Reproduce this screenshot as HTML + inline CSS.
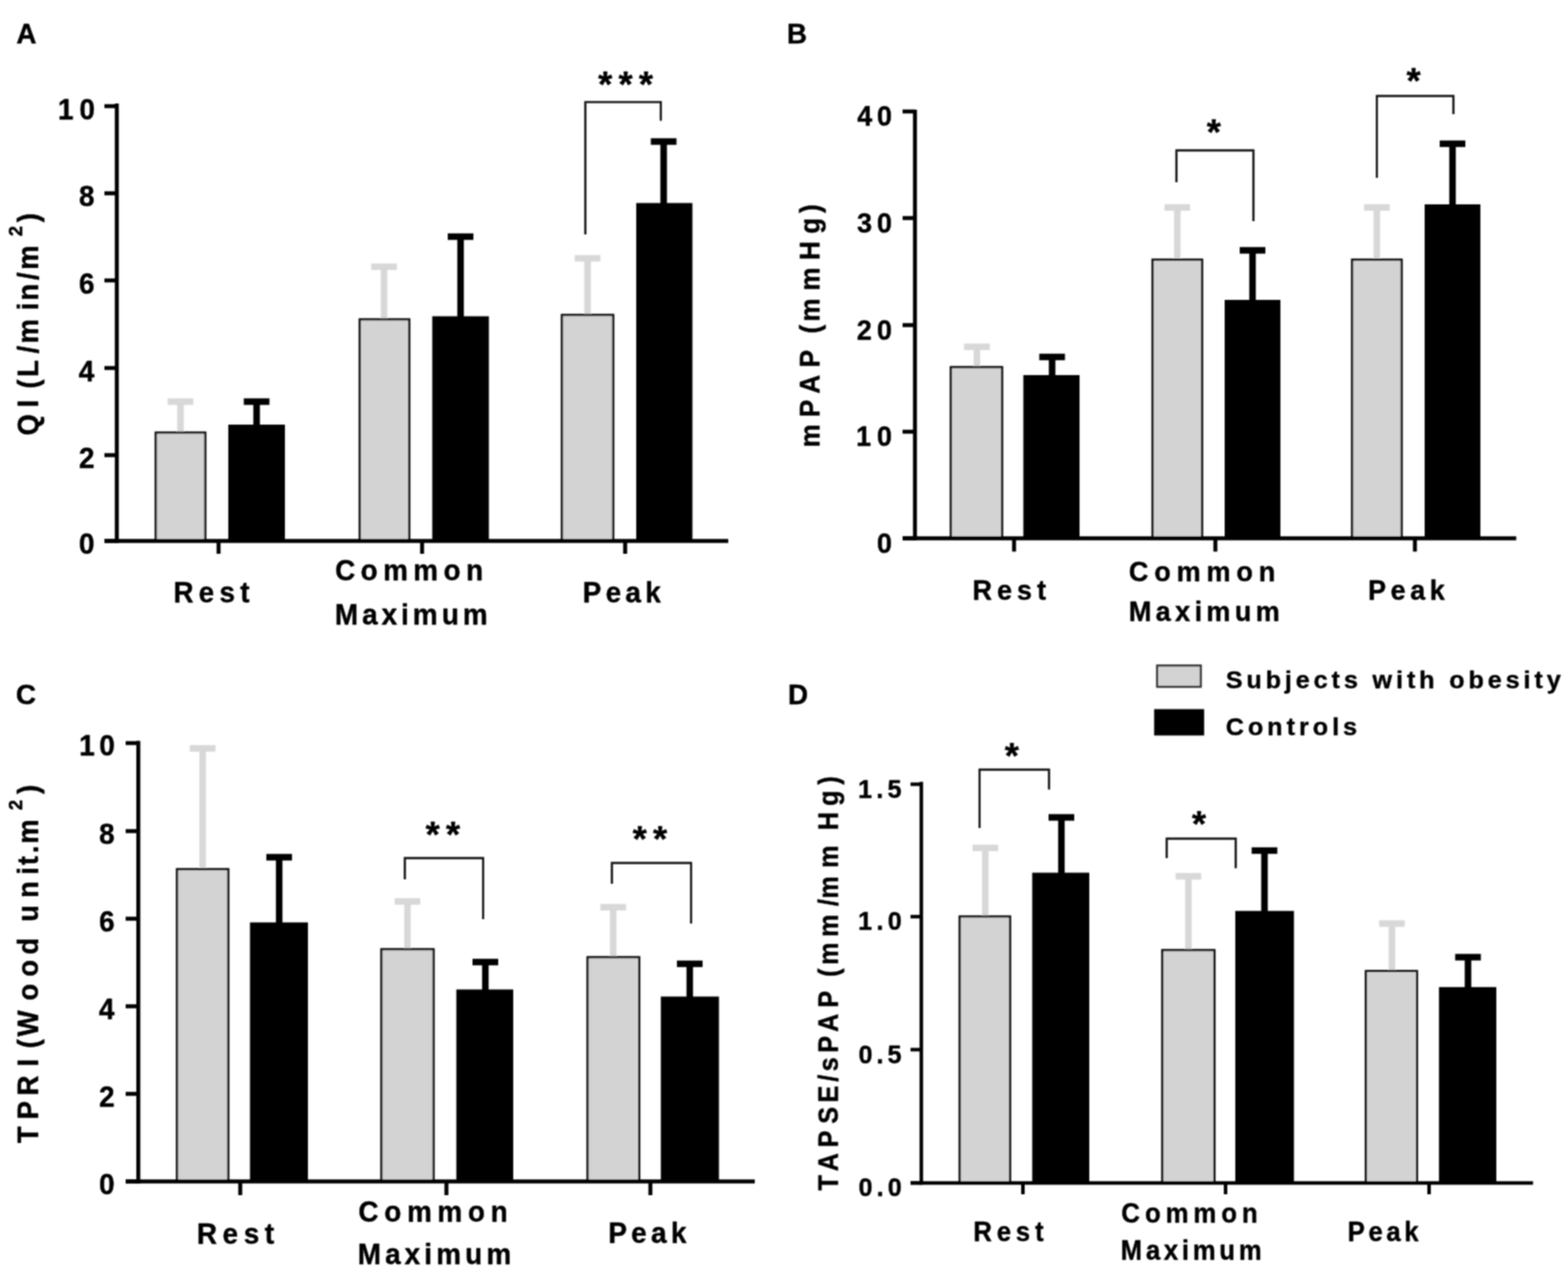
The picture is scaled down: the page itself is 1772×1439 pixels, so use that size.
<!DOCTYPE html>
<html lang="en">
<head>
<meta charset="utf-8">
<title>Figure: QI, mPAP, TPRI and TAPSE/sPAP at rest, common maximum and peak</title>
<style>
html,body{margin:0;padding:0;background:#fff;}
body{width:1772px;height:1439px;overflow:hidden;}
svg{display:block;}
svg text{font-family:"Liberation Sans",sans-serif;font-weight:bold;white-space:pre;fill:#000;}
</style>
</head>
<body>
<svg width="1772" height="1439" viewBox="0 0 1772 1439">
<defs><filter id="soft" x="0" y="0" width="1772" height="1439" filterUnits="userSpaceOnUse"><feConvolveMatrix order="3" kernelMatrix="1 2 1 2 4 2 1 2 1" divisor="16" edgeMode="duplicate"/></filter></defs>
<rect width="1772" height="1439" fill="#fff"/>
<g id="figure" filter="url(#soft)">
<g id="panel-A">
<g class="bars">
<rect x="200.30" y="454.00" width="7.40" height="36.00" fill="#d8d8d8"/>
<rect x="189.50" y="450.30" width="29.00" height="7.40" fill="#d8d8d8"/>
<rect x="176.00" y="489.00" width="56.00" height="122.50" fill="#d3d3d3" stroke="#0a0a0a" stroke-width="2.5"/>
<rect x="286.30" y="454.00" width="7.40" height="28.00" fill="#000"/>
<rect x="275.50" y="450.30" width="29.00" height="7.40" fill="#000"/>
<rect x="258.00" y="480.00" width="64.00" height="131.50" fill="#000"/>
<rect x="430.30" y="301.50" width="7.40" height="60.50" fill="#d8d8d8"/>
<rect x="419.50" y="297.80" width="29.00" height="7.40" fill="#d8d8d8"/>
<rect x="406.50" y="361.00" width="56.00" height="250.50" fill="#d3d3d3" stroke="#0a0a0a" stroke-width="2.5"/>
<rect x="516.80" y="267.50" width="7.40" height="92.00" fill="#000"/>
<rect x="506.00" y="263.80" width="29.00" height="7.40" fill="#000"/>
<rect x="488.50" y="357.50" width="64.00" height="254.00" fill="#000"/>
<rect x="660.30" y="292.00" width="7.40" height="65.00" fill="#d8d8d8"/>
<rect x="649.50" y="288.30" width="29.00" height="7.40" fill="#d8d8d8"/>
<rect x="635.00" y="356.00" width="58.00" height="255.50" fill="#d3d3d3" stroke="#0a0a0a" stroke-width="2.5"/>
<rect x="746.30" y="160.00" width="7.40" height="71.50" fill="#000"/>
<rect x="735.50" y="156.30" width="29.00" height="7.40" fill="#000"/>
<rect x="719.00" y="229.50" width="63.50" height="382.00" fill="#000"/>
</g>
<g class="axes">
<line x1="132.00" y1="117.00" x2="132.00" y2="613.75" stroke="#000" stroke-width="4.5"/>
<line x1="118.00" y1="611.50" x2="823.00" y2="611.50" stroke="#000" stroke-width="4.5"/>
<line x1="118.00" y1="120.00" x2="132.00" y2="120.00" stroke="#000" stroke-width="4.5"/>
<line x1="118.00" y1="218.50" x2="132.00" y2="218.50" stroke="#000" stroke-width="4.5"/>
<line x1="118.00" y1="317.00" x2="132.00" y2="317.00" stroke="#000" stroke-width="4.5"/>
<line x1="118.00" y1="416.00" x2="132.00" y2="416.00" stroke="#000" stroke-width="4.5"/>
<line x1="118.00" y1="514.50" x2="132.00" y2="514.50" stroke="#000" stroke-width="4.5"/>
<line x1="118.00" y1="611.50" x2="132.00" y2="611.50" stroke="#000" stroke-width="4.5"/>
<line x1="247.00" y1="611.50" x2="247.00" y2="626.00" stroke="#000" stroke-width="4.5"/>
<line x1="477.00" y1="611.50" x2="477.00" y2="626.00" stroke="#000" stroke-width="4.5"/>
<line x1="706.50" y1="611.50" x2="706.50" y2="626.00" stroke="#000" stroke-width="4.5"/>
</g>
<g class="brackets">
<polyline points="661.50,265.00 661.50,115.40 746.80,115.40 746.80,136.50" fill="none" stroke="#0a0a0a" stroke-width="2.3"/>
</g>
<g class="labels" stroke="#000" stroke-width="0.45" stroke-linejoin="round">
<text font-size="31.5" style="letter-spacing:6.74px" transform="translate(65.52 134.70) scale(1 1.05)">10</text>
<text font-size="31.5" transform="translate(89.23 233.20) scale(1 1.05)">8</text>
<text font-size="31.5" transform="translate(89.23 331.70) scale(1 1.05)">6</text>
<text font-size="31.5" transform="translate(89.09 430.70) scale(1 1.05)">4</text>
<text font-size="31.5" transform="translate(89.33 529.20) scale(1 1.05)">2</text>
<text font-size="31.5" transform="translate(89.26 626.20) scale(1 1.05)">0</text>
<text x="18.40" y="49.00" font-size="31.5">A</text>
<text x="675.88" y="109.20" font-size="41" style="letter-spacing:7.15px">***</text>
<text font-size="31.5" style="letter-spacing:5.91px" transform="translate(195.89 681.30) scale(1 1.05)">Rest</text>
<text font-size="31.5" style="letter-spacing:6.15px" transform="translate(378.71 656.20) scale(1 1.05)">Common</text>
<text font-size="31.5" style="letter-spacing:4.55px" transform="translate(378.39 705.50) scale(1 1.05)">Maximum</text>
<text font-size="31.5" style="letter-spacing:4.87px" transform="translate(658.59 681.30) scale(1 1.05)">Peak</text>
<text x="-492.3 -460.6 -451.9 -439.3 -425.9 -399.6 -388.2 -350.8 -339.8 -316.4 -305.1" y="0" font-size="31" transform="translate(42.60 0) rotate(-90) scale(1 1.07)">QI (L/min/m</text>
<text x="-267.0" y="0" font-size="21" transform="translate(24.60 0) rotate(-90) scale(1 1.07)">2</text>
<text x="-251.3" y="0" font-size="31" transform="translate(42.60 0) rotate(-90) scale(1 1.07)">)</text>
</g>
</g>
<g id="panel-B">
<g class="bars">
<rect x="1100.30" y="392.00" width="7.40" height="24.00" fill="#d8d8d8"/>
<rect x="1089.50" y="388.30" width="29.00" height="7.40" fill="#d8d8d8"/>
<rect x="1074.50" y="415.00" width="58.00" height="193.50" fill="#d3d3d3" stroke="#0a0a0a" stroke-width="2.5"/>
<rect x="1185.30" y="403.50" width="7.40" height="22.50" fill="#000"/>
<rect x="1174.50" y="399.80" width="29.00" height="7.40" fill="#000"/>
<rect x="1156.50" y="424.00" width="63.50" height="184.50" fill="#000"/>
<rect x="1326.80" y="234.50" width="7.40" height="60.00" fill="#d8d8d8"/>
<rect x="1316.00" y="230.80" width="29.00" height="7.40" fill="#d8d8d8"/>
<rect x="1302.50" y="293.50" width="56.00" height="315.00" fill="#d3d3d3" stroke="#0a0a0a" stroke-width="2.5"/>
<rect x="1411.80" y="283.00" width="7.40" height="58.00" fill="#000"/>
<rect x="1401.00" y="279.30" width="29.00" height="7.40" fill="#000"/>
<rect x="1384.00" y="339.00" width="63.00" height="269.50" fill="#000"/>
<rect x="1552.30" y="234.50" width="7.40" height="60.00" fill="#d8d8d8"/>
<rect x="1541.50" y="230.80" width="29.00" height="7.40" fill="#d8d8d8"/>
<rect x="1528.00" y="293.50" width="56.00" height="315.00" fill="#d3d3d3" stroke="#0a0a0a" stroke-width="2.5"/>
<rect x="1637.80" y="162.50" width="7.40" height="70.50" fill="#000"/>
<rect x="1627.00" y="158.80" width="29.00" height="7.40" fill="#000"/>
<rect x="1610.00" y="231.00" width="63.00" height="377.50" fill="#000"/>
</g>
<g class="axes">
<line x1="1034.00" y1="124.00" x2="1034.00" y2="610.75" stroke="#000" stroke-width="4.5"/>
<line x1="1020.00" y1="608.50" x2="1713.50" y2="608.50" stroke="#000" stroke-width="4.5"/>
<line x1="1020.00" y1="126.00" x2="1034.00" y2="126.00" stroke="#000" stroke-width="4.5"/>
<line x1="1020.00" y1="246.50" x2="1034.00" y2="246.50" stroke="#000" stroke-width="4.5"/>
<line x1="1020.00" y1="367.50" x2="1034.00" y2="367.50" stroke="#000" stroke-width="4.5"/>
<line x1="1020.00" y1="488.00" x2="1034.00" y2="488.00" stroke="#000" stroke-width="4.5"/>
<line x1="1020.00" y1="608.50" x2="1034.00" y2="608.50" stroke="#000" stroke-width="4.5"/>
<line x1="1146.00" y1="608.50" x2="1146.00" y2="623.50" stroke="#000" stroke-width="4.5"/>
<line x1="1373.50" y1="608.50" x2="1373.50" y2="623.50" stroke="#000" stroke-width="4.5"/>
<line x1="1599.00" y1="608.50" x2="1599.00" y2="623.50" stroke="#000" stroke-width="4.5"/>
</g>
<g class="brackets">
<polyline points="1329.50,206.00 1329.50,170.00 1416.50,170.00 1416.50,250.00" fill="none" stroke="#0a0a0a" stroke-width="2.3"/>
<polyline points="1556.00,201.00 1556.00,108.50 1642.50,108.50 1642.50,129.00" fill="none" stroke="#0a0a0a" stroke-width="2.3"/>
</g>
<g class="labels" stroke="#000" stroke-width="0.45" stroke-linejoin="round">
<text font-size="30.5" style="letter-spacing:5.29px" transform="translate(968.84 142.30) scale(1 1.05)">40</text>
<text font-size="30.5" style="letter-spacing:5.53px" transform="translate(968.60 262.80) scale(1 1.05)">30</text>
<text font-size="30.5" style="letter-spacing:5.88px" transform="translate(968.24 383.80) scale(1 1.05)">20</text>
<text font-size="30.5" style="letter-spacing:6.75px" transform="translate(967.38 504.30) scale(1 1.05)">10</text>
<text font-size="30.5" transform="translate(990.94 624.80) scale(1 1.05)">0</text>
<text x="889.29" y="49.00" font-size="31.5">B</text>
<text x="1363.73" y="163.20" font-size="41">*</text>
<text x="1589.48" y="104.70" font-size="41">*</text>
<text font-size="30.5" style="letter-spacing:5.70px" transform="translate(1098.96 678.30) scale(1 1.05)">Rest</text>
<text font-size="30.5" style="letter-spacing:6.66px" transform="translate(1275.75 656.70) scale(1 1.05)">Common</text>
<text font-size="30.5" style="letter-spacing:4.98px" transform="translate(1275.66 701.50) scale(1 1.05)">Maximum</text>
<text font-size="30.5" style="letter-spacing:5.19px" transform="translate(1545.96 678.50) scale(1 1.05)">Peak</text>
<text x="-505.7 -471.6 -445.0 -415.3 -395.6 -377.1 -363.4 -328.4 -294.0 -264.2 -240.7" y="0" font-size="29.5" transform="translate(926.00 0) rotate(-90) scale(1 1.07)">mPAP (mmHg)</text>
</g>
</g>
<g id="panel-C">
<g class="bars">
<rect x="225.30" y="846.00" width="7.40" height="137.50" fill="#d8d8d8"/>
<rect x="214.50" y="842.30" width="29.00" height="7.40" fill="#d8d8d8"/>
<rect x="200.00" y="982.50" width="58.00" height="353.00" fill="#d3d3d3" stroke="#0a0a0a" stroke-width="2.5"/>
<rect x="311.80" y="969.00" width="7.40" height="75.70" fill="#000"/>
<rect x="301.00" y="965.30" width="29.00" height="7.40" fill="#000"/>
<rect x="282.50" y="1042.70" width="65.50" height="292.80" fill="#000"/>
<rect x="456.80" y="1019.00" width="7.40" height="55.00" fill="#d8d8d8"/>
<rect x="446.00" y="1015.30" width="29.00" height="7.40" fill="#d8d8d8"/>
<rect x="431.00" y="1073.00" width="59.00" height="262.50" fill="#d3d3d3" stroke="#0a0a0a" stroke-width="2.5"/>
<rect x="544.80" y="1087.50" width="7.40" height="33.00" fill="#000"/>
<rect x="534.00" y="1083.80" width="29.00" height="7.40" fill="#000"/>
<rect x="515.70" y="1118.50" width="64.30" height="217.00" fill="#000"/>
<rect x="689.30" y="1025.50" width="7.40" height="57.50" fill="#d8d8d8"/>
<rect x="678.50" y="1021.80" width="29.00" height="7.40" fill="#d8d8d8"/>
<rect x="664.00" y="1082.00" width="58.30" height="253.50" fill="#d3d3d3" stroke="#0a0a0a" stroke-width="2.5"/>
<rect x="775.80" y="1089.50" width="7.40" height="39.00" fill="#000"/>
<rect x="765.00" y="1085.80" width="29.00" height="7.40" fill="#000"/>
<rect x="746.80" y="1126.50" width="65.70" height="209.00" fill="#000"/>
</g>
<g class="axes">
<line x1="156.30" y1="837.50" x2="156.30" y2="1337.75" stroke="#000" stroke-width="4.5"/>
<line x1="142.00" y1="1335.50" x2="853.00" y2="1335.50" stroke="#000" stroke-width="4.5"/>
<line x1="142.00" y1="840.00" x2="156.30" y2="840.00" stroke="#000" stroke-width="4.5"/>
<line x1="142.00" y1="939.50" x2="156.30" y2="939.50" stroke="#000" stroke-width="4.5"/>
<line x1="142.00" y1="1038.50" x2="156.30" y2="1038.50" stroke="#000" stroke-width="4.5"/>
<line x1="142.00" y1="1137.50" x2="156.30" y2="1137.50" stroke="#000" stroke-width="4.5"/>
<line x1="142.00" y1="1236.50" x2="156.30" y2="1236.50" stroke="#000" stroke-width="4.5"/>
<line x1="142.00" y1="1335.50" x2="156.30" y2="1335.50" stroke="#000" stroke-width="4.5"/>
<line x1="271.50" y1="1335.50" x2="271.50" y2="1351.00" stroke="#000" stroke-width="4.5"/>
<line x1="504.50" y1="1335.50" x2="504.50" y2="1351.00" stroke="#000" stroke-width="4.5"/>
<line x1="735.00" y1="1335.50" x2="735.00" y2="1351.00" stroke="#000" stroke-width="4.5"/>
</g>
<g class="brackets">
<polyline points="457.50,994.00 457.50,970.00 546.00,970.00 546.00,1039.00" fill="none" stroke="#0a0a0a" stroke-width="2.3"/>
<polyline points="691.50,999.00 691.50,975.50 781.00,975.50 781.00,1044.00" fill="none" stroke="#0a0a0a" stroke-width="2.3"/>
</g>
<g class="labels" stroke="#000" stroke-width="0.45" stroke-linejoin="round">
<text font-size="31.5" style="letter-spacing:5.24px" transform="translate(89.52 854.00) scale(1 1.05)">10</text>
<text font-size="31.5" transform="translate(111.88 953.50) scale(1 1.05)">8</text>
<text font-size="31.5" transform="translate(111.88 1052.50) scale(1 1.05)">6</text>
<text font-size="31.5" transform="translate(111.74 1151.50) scale(1 1.05)">4</text>
<text font-size="31.5" transform="translate(111.98 1250.50) scale(1 1.05)">2</text>
<text font-size="31.5" transform="translate(111.91 1349.50) scale(1 1.05)">0</text>
<text x="17.91" y="796.00" font-size="31.5">C</text>
<text x="480.88" y="956.70" font-size="41" style="letter-spacing:7.25px">**</text>
<text x="714.88" y="961.70" font-size="41" style="letter-spacing:7.25px">**</text>
<text font-size="31.5" style="letter-spacing:6.27px" transform="translate(222.59 1406.20) scale(1 1.05)">Rest</text>
<text font-size="31.5" style="letter-spacing:6.45px" transform="translate(405.01 1381.00) scale(1 1.05)">Common</text>
<text font-size="31.5" style="letter-spacing:4.71px" transform="translate(404.19 1428.50) scale(1 1.05)">Maximum</text>
<text font-size="31.5" style="letter-spacing:4.94px" transform="translate(687.39 1404.70) scale(1 1.05)">Peak</text>
<text x="-1292.2 -1265.2 -1238.2 -1205.6 -1196.9 -1184.9 -1171.5 -1131.0 -1104.1 -1079.1 -1060.1 -1041.9 -1015.1 -988.7 -977.9 -964.6 -953.8" y="0" font-size="31" transform="translate(42.80 0) rotate(-90) scale(1 1.07)">TPRI (Wood unit.m</text>
<text x="-915.8" y="0" font-size="21" transform="translate(25.40 0) rotate(-90) scale(1 1.07)">2</text>
<text x="-897.5" y="0" font-size="31" transform="translate(42.80 0) rotate(-90) scale(1 1.07)">)</text>
</g>
</g>
<g id="panel-D">
<g class="bars">
<rect x="1109.80" y="958.50" width="7.40" height="78.50" fill="#d8d8d8"/>
<rect x="1099.00" y="954.80" width="29.00" height="7.40" fill="#d8d8d8"/>
<rect x="1084.50" y="1036.00" width="57.00" height="301.20" fill="#d3d3d3" stroke="#0a0a0a" stroke-width="2.5"/>
<rect x="1195.80" y="924.00" width="7.40" height="64.50" fill="#000"/>
<rect x="1185.00" y="920.30" width="29.00" height="7.40" fill="#000"/>
<rect x="1166.50" y="986.50" width="64.50" height="350.70" fill="#000"/>
<rect x="1339.30" y="990.50" width="7.40" height="84.50" fill="#d8d8d8"/>
<rect x="1328.50" y="986.80" width="29.00" height="7.40" fill="#d8d8d8"/>
<rect x="1313.50" y="1074.00" width="58.90" height="263.20" fill="#d3d3d3" stroke="#0a0a0a" stroke-width="2.5"/>
<rect x="1425.30" y="961.50" width="7.40" height="70.20" fill="#000"/>
<rect x="1414.50" y="957.80" width="29.00" height="7.40" fill="#000"/>
<rect x="1396.00" y="1029.70" width="66.30" height="307.50" fill="#000"/>
<rect x="1569.30" y="1044.00" width="7.40" height="54.70" fill="#d8d8d8"/>
<rect x="1558.50" y="1040.30" width="29.00" height="7.40" fill="#d8d8d8"/>
<rect x="1543.60" y="1097.70" width="57.70" height="239.50" fill="#d3d3d3" stroke="#0a0a0a" stroke-width="2.5"/>
<rect x="1655.30" y="1082.00" width="7.40" height="35.80" fill="#000"/>
<rect x="1644.50" y="1078.30" width="29.00" height="7.40" fill="#000"/>
<rect x="1626.20" y="1115.80" width="64.80" height="221.40" fill="#000"/>
</g>
<g class="axes">
<line x1="1041.20" y1="883.75" x2="1041.20" y2="1339.20" stroke="#000" stroke-width="4"/>
<line x1="1029.00" y1="1337.20" x2="1732.50" y2="1337.20" stroke="#000" stroke-width="4"/>
<line x1="1029.00" y1="886.50" x2="1041.20" y2="886.50" stroke="#000" stroke-width="4"/>
<line x1="1029.00" y1="1036.20" x2="1041.20" y2="1036.20" stroke="#000" stroke-width="4"/>
<line x1="1029.00" y1="1186.50" x2="1041.20" y2="1186.50" stroke="#000" stroke-width="4"/>
<line x1="1029.00" y1="1337.20" x2="1041.20" y2="1337.20" stroke="#000" stroke-width="4"/>
<line x1="1156.00" y1="1337.20" x2="1156.00" y2="1350.00" stroke="#000" stroke-width="4"/>
<line x1="1385.00" y1="1337.20" x2="1385.00" y2="1350.00" stroke="#000" stroke-width="4"/>
<line x1="1615.00" y1="1337.20" x2="1615.00" y2="1350.00" stroke="#000" stroke-width="4"/>
</g>
<g class="brackets">
<polyline points="1107.00,936.00 1107.00,870.00 1185.50,870.00 1185.50,892.50" fill="none" stroke="#0a0a0a" stroke-width="2.3"/>
<polyline points="1318.50,970.00 1318.50,948.00 1396.50,948.00 1396.50,981.50" fill="none" stroke="#0a0a0a" stroke-width="2.3"/>
</g>
<g class="labels" stroke="#000" stroke-width="0.45" stroke-linejoin="round">
<text font-size="28.5" style="letter-spacing:4.73px" transform="translate(969.70 901.50) scale(1 1.05)">1.5</text>
<text font-size="28.5" style="letter-spacing:4.92px" transform="translate(969.70 1051.20) scale(1 1.05)">1.0</text>
<text font-size="28.5" style="letter-spacing:4.40px" transform="translate(970.37 1201.50) scale(1 1.05)">0.5</text>
<text font-size="28.5" style="letter-spacing:4.59px" transform="translate(970.37 1352.20) scale(1 1.05)">0.0</text>
<text x="890.48" y="796.00" font-size="31.5">D</text>
<text x="1135.61" y="867.70" font-size="41">*</text>
<text x="1346.98" y="944.70" font-size="41">*</text>
<text font-size="29" style="letter-spacing:5.48px" transform="translate(1100.06 1402.50) scale(1 1.05)">Rest</text>
<text font-size="29" style="letter-spacing:5.67px" transform="translate(1267.31 1381.50) scale(1 1.05)">Common</text>
<text font-size="29" style="letter-spacing:4.25px" transform="translate(1266.56 1424.00) scale(1 1.05)">Maximum</text>
<text font-size="29" style="letter-spacing:4.16px" transform="translate(1523.06 1402.50) scale(1 1.05)">Peak</text>
<text x="1385.18" y="777.50" font-size="28.5" style="letter-spacing:4.36px">Subjects with obesity</text>
<text x="1385.13" y="831.00" font-size="28.5" style="letter-spacing:4.48px">Controls</text>
<text x="-1345.8 -1324.0 -1297.1 -1270.3 -1246.2 -1222.7 -1210.9 -1190.0 -1166.5 -1139.0 -1120.0 -1104.2 -1090.8 -1059.0 -1024.2 -1015.8 -981.1 -955.8 -938.4 -911.1 -887.1" y="0" font-size="28.5" transform="translate(946.80 0) rotate(-90) scale(1 1.07)">TAPSE/sPAP (mm/mm Hg)</text>
</g>
</g>
<g id="legend">
<rect x="1307.70" y="752.30" width="49.30" height="24.00" fill="#d3d3d3" stroke="#333" stroke-width="2.4"/>
<rect x="1304.30" y="801.60" width="56.50" height="29.80" fill="#000"/>
</g>
</g>
</svg>
</body>
</html>
